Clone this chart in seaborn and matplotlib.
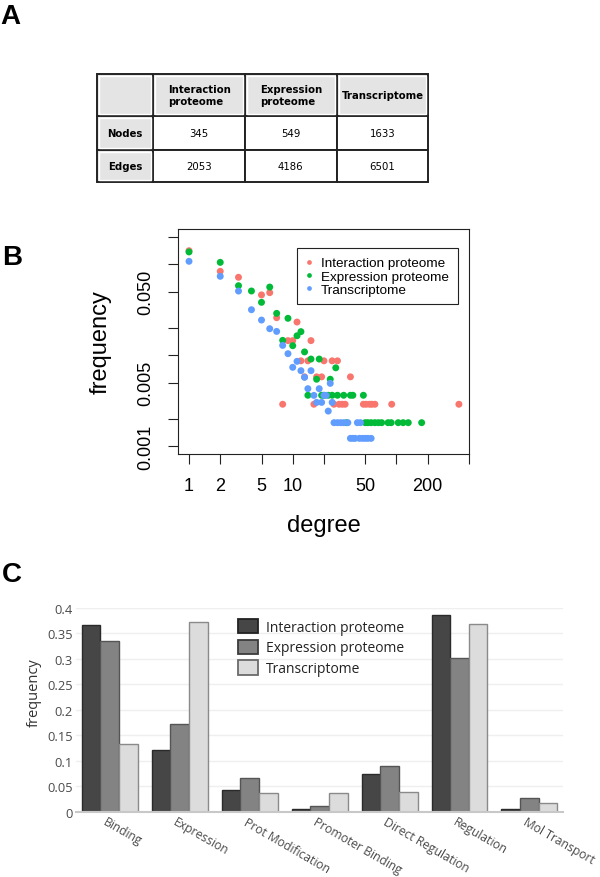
import numpy as np
import pandas as pd
import matplotlib
matplotlib.use("Agg")
import matplotlib.pyplot as plt
import matplotlib.transforms as mtransforms
from matplotlib.lines import Line2D
from matplotlib.patches import Patch, Rectangle
from matplotlib.ticker import NullLocator
import seaborn as sns

sns.set_style("white")
plt.rcParams["font.family"] = ["DejaVu Sans"]
plt.rcParams["text.color"] = "black"
plt.rcParams["axes.labelcolor"] = "black"
plt.rcParams["xtick.color"] = "black"
plt.rcParams["ytick.color"] = "black"

# ---------------- Panel A data ----------------
table_cols = ["Interaction\nproteome", "Expression\nproteome", "Transcriptome"]
table_rows = ["Nodes", "Edges"]
nodes = [345, 549, 1633]
edges = [2053, 4186, 6501]

# ---------------- Panel B data ----------------
series_names = ["Interaction proteome", "Expression proteome", "Transcriptome"]

inter_degree = [1, 2, 3, 5, 6, 7, 8, 9, 10, 11, 12, 13, 14, 15, 16, 17, 19, 20, 25, 24,
                27, 28, 30, 32, 36, 48, 51, 55, 58, 62, 90, 400]
inter_freq = [0.141, 0.0837, 0.0720, 0.0461, 0.0488, 0.0259, 0.0029, 0.0145, 0.0145, 0.0232,
              0.0087, 0.0058, 0.0087, 0.0145, 0.0029, 0.0058, 0.0058, 0.0087, 0.0029, 0.0087,
              0.0087, 0.0029, 0.0029, 0.0029, 0.0058, 0.0029, 0.0029, 0.0029, 0.0029, 0.0029,
              0.0029, 0.0029]

expr_degree = [1, 2, 3, 4, 5, 6, 7, 8, 9, 10, 11, 12, 13, 14, 15, 17, 18, 19, 20, 22,
               23, 24, 26, 27, 31, 33, 36, 38, 48, 50, 53, 57, 62, 67, 72, 83, 89, 104, 116,
               130, 175]
expr_freq = [0.1366, 0.105, 0.0582, 0.0509, 0.0382, 0.0562, 0.0289, 0.0146, 0.0255, 0.01275,
             0.0164, 0.0182, 0.0109, 0.00364, 0.0091, 0.00546, 0.0091, 0.00364, 0.00364, 0.00364,
             0.00546, 0.00364, 0.00729, 0.00364, 0.00364, 0.00182, 0.00364, 0.00364, 0.00364,
             0.00182, 0.00182, 0.00182, 0.00182, 0.00182, 0.00182, 0.00182, 0.00182, 0.00182,
             0.00182, 0.00182, 0.00182]

trans_degree = [1, 2, 3, 4, 5, 6, 7, 8, 9, 10, 11, 12, 13, 14, 15, 16, 17, 18, 19, 20,
                21, 22, 23, 24, 25, 27, 29, 31, 34, 42, 45, 36, 38, 40, 44, 47, 50, 53, 57]
trans_freq = [0.1078, 0.0738, 0.0508, 0.0317, 0.0244, 0.0196, 0.0183, 0.01285, 0.01042, 0.00738,
              0.00859, 0.00678, 0.00573, 0.0043, 0.00678, 0.00363, 0.00304, 0.0043, 0.00304,
              0.00363, 0.00363, 0.00244, 0.00492, 0.00304, 0.00182, 0.00182, 0.00182, 0.00182,
              0.00182, 0.00182, 0.00182, 0.001224, 0.001224, 0.001224, 0.001224, 0.001224,
              0.001224, 0.001224, 0.001224]

x_ticks = [1, 2, 5, 10, 20, 50, 100, 200, 500]
x_tick_labels = ["1", "2", "5", "10", "", "50", "", "200", ""]
y_ticks = [0.001, 0.002, 0.005, 0.01, 0.02, 0.05, 0.1, 0.2]
y_tick_labels = ["0.001", "", "0.005", "", "", "0.050", "", ""]

# ---------------- Panel C data ----------------
categories = ["Binding", "Expression", "Prot Modification", "Promoter Binding",
              "Direct Regulation", "Regulation", "Mol Transport"]
inter_share = [0.367, 0.122, 0.0426, 0.005, 0.0747, 0.3865, 0.0053]
expr_share = [0.336, 0.172, 0.0668, 0.0112, 0.0898, 0.301, 0.026]
trans_share = [0.133, 0.373, 0.0367, 0.0367, 0.0387, 0.368, 0.0177]
c_ticks = [0, 0.05, 0.1, 0.15, 0.2, 0.25, 0.3, 0.35, 0.4]
c_tick_labels = ["0", "0.05", "0.1", "0.15", "0.2", "0.25", "0.3", "0.35", "0.4"]

# ---------------- styles ----------------
scatter_colors = ["#F8766D", "#00BA38", "#619CFF"]
bar_colors = ["#464646", "#838383", "#dcdcdc"]
bar_edges = ["#2a2a2a", "#555555", "#8a8a8a"]

W, H = 600, 878
fig = plt.figure(figsize=(6, 8.78), dpi=100)


def add_ax(l, t, r, b):
    return fig.add_axes([l / W, 1 - b / H, (r - l) / W, (b - t) / H])


# panel letters
for letter, xp, yp in [("A", 0, 24), ("B", 2, 265), ("C", 2, 582)]:
    fig.text(xp / W, 1 - yp / H, letter, fontsize=20, fontweight="bold",
             family="Liberation Sans", va="baseline", ha="left", color="black")

# ================= Panel A : table =================
axA = add_ax(96.7, 75, 428.3, 182.7)
axA.axis("off")
cell_text = [[""] + table_cols,
             [table_rows[0]] + [str(v) for v in nodes],
             [table_rows[1]] + [str(v) for v in edges]]
tbl = axA.table(cellText=cell_text, bbox=[0, 0, 1, 1], cellLoc="center")
tbl.auto_set_font_size(False)
tbl.set_fontsize(7.3)
col_w = [56.6, 91.7, 91.7, 91.6]
row_h = [42.3, 33.4, 32.0]
for (r, c), cell in tbl.get_celld().items():
    cell.set_width(col_w[c])
    cell.set_height(row_h[r])
    cell.set_edgecolor("#222222")
    cell.set_linewidth(1.4)
    txt = cell.get_text()
    txt.set_fontfamily("DejaVu Sans")
    txt.set_color("black")
    if r == 0 or c == 0:
        cell.set_facecolor("#e4e4e4")
        txt.set_fontweight("bold")
        txt.set_multialignment("left")
    else:
        cell.set_facecolor("white")
Wt, Ht = sum(col_w), sum(row_h)
inset = 2.0
for r in range(3):
    for c in range(4):
        if r == 0 or c == 0:
            x0 = sum(col_w[:c])
            y0 = sum(row_h[:r])
            rect = Rectangle(((x0 + inset) / Wt, 1 - (y0 + row_h[r] - inset) / Ht),
                             (col_w[c] - 2 * inset) / Wt, (row_h[r] - 2 * inset) / Ht,
                             transform=axA.transAxes, fill=False, edgecolor="white",
                             linewidth=1.0, zorder=5, clip_on=False)
            axA.add_patch(rect)

# ================= Panel B : degree distribution =================
axB = add_ax(177.7, 229.7, 469.3, 455)
df_b = pd.DataFrame({
    "degree": inter_degree + expr_degree + trans_degree,
    "frequency": inter_freq + expr_freq + trans_freq,
    "network": [series_names[0]] * len(inter_degree)
    + [series_names[1]] * len(expr_degree)
    + [series_names[2]] * len(trans_degree),
})
sns.scatterplot(data=df_b, x="degree", y="frequency", hue="network",
                hue_order=series_names, palette=scatter_colors, s=25,
                linewidth=0, legend=False, ax=axB)
axB.set_xscale("log")
axB.set_yscale("log")
axB.set_xlim(0.778, 504)
axB.set_ylim(0.000824, 0.246)
axB.set_xticks(x_ticks)
axB.set_xticklabels(x_tick_labels)
axB.xaxis.set_minor_locator(NullLocator())
axB.set_yticks(y_ticks)
axB.set_yticklabels(y_tick_labels, rotation=90, va="center")
axB.yaxis.set_minor_locator(NullLocator())
axB.tick_params(direction="out", length=7.5, width=0.8, color="#222222",
                labelsize=13, labelcolor="black", pad=9.3, bottom=True, left=True)
for lab in axB.get_xticklabels() + axB.get_yticklabels():
    lab.set_fontfamily("Liberation Sans")
for sp in axB.spines.values():
    sp.set_color("#222222")
    sp.set_linewidth(0.8)
axB.set_xlabel("degree", fontsize=17, family="Liberation Sans", color="black")
axB.xaxis.set_label_coords(0.5, -0.2676)
axB.set_ylabel("frequency", fontsize=17, family="Liberation Sans", color="black")
axB.yaxis.set_label_coords(-0.2263, 0.5)

handles_b = [Line2D([0], [0], marker="o", ls="", markersize=3.4,
                    markerfacecolor=c, markeredgewidth=0) for c in scatter_colors]
legB = axB.legend(handles_b, series_names, loc="upper left",
                  bbox_to_anchor=(296.7 / W, 1 - 249.3 / H), bbox_transform=fig.transFigure,
                  frameon=True, fancybox=False, edgecolor="#222222", framealpha=1,
                  borderpad=0.65, handlelength=0.52, handletextpad=0.63,
                  labelspacing=0.05, borderaxespad=0,
                  prop={"family": "Liberation Sans", "size": 9.7})
legB.get_frame().set_linewidth(0.8)
for t in legB.get_texts():
    t.set_color("black")

# ================= Panel C : bar chart =================
axC = add_ax(76, 609, 563.3, 812.7)
df_c = pd.DataFrame({
    "category": categories * 3,
    "network": [n for n in series_names for _ in categories],
    "frequency": inter_share + expr_share + trans_share,
})
sns.barplot(data=df_c, x="category", y="frequency", hue="network", order=categories,
            hue_order=series_names, palette=bar_colors, saturation=1, errorbar=None,
            width=0.8, legend=False, ax=axC)
for cont, ec in zip(axC.containers, bar_edges):
    for p in cont:
        p.set_edgecolor(ec)
        p.set_linewidth(1.0)
axC.set_xlim(-0.479, 6.483)
axC.set_ylim(0, 0.4)
axC.set_yticks(c_ticks)
axC.set_yticklabels(c_tick_labels)
axC.set_xticks(range(len(categories)))
axC.set_xticklabels(categories, rotation=-30, ha="left", va="top", rotation_mode="anchor")
axC.tick_params(axis="y", length=0, labelsize=9.3, labelcolor="#4a4a4a", pad=2.4)
axC.tick_params(axis="x", length=0, labelsize=8.7, labelcolor="#4a4a4a", pad=2.5)
for lab in axC.get_xticklabels() + axC.get_yticklabels():
    lab.set_fontfamily("Open Sans")
offset = mtransforms.ScaledTranslation(-2 / 100, 0, fig.dpi_scale_trans)
for lab in axC.get_xticklabels():
    lab.set_transform(lab.get_transform() + offset)
for side in ["top", "right", "left"]:
    axC.spines[side].set_visible(False)
axC.spines["bottom"].set_color("#c8c8c8")
axC.spines["bottom"].set_linewidth(1.5)
axC.yaxis.grid(True, color="#efefef", linewidth=1)
axC.xaxis.grid(False)
axC.set_axisbelow(True)
axC.set_xlabel("")
axC.set_ylabel("frequency", fontsize=10.5, family="Open Sans", color="#333333")
axC.yaxis.set_label_coords(-0.0704, 0.59)

handles_c = [Patch(facecolor=fc, edgecolor=ec, linewidth=1.3)
             for fc, ec in zip(bar_colors, ["#222222", "#3a3a3a", "#6a6a6a"])]
legC = axC.legend(handles_c, series_names, loc="upper left",
                  bbox_to_anchor=(238 / W, 1 - 620 / H), bbox_transform=fig.transFigure,
                  frameon=False, borderpad=0, borderaxespad=0, handlelength=1.45,
                  handleheight=1.2, handletextpad=0.55, labelspacing=0.35,
                  prop={"family": "Open Sans", "size": 10})
for t in legC.get_texts():
    t.set_color("#222222")

fig.savefig("out.png", dpi=100)
